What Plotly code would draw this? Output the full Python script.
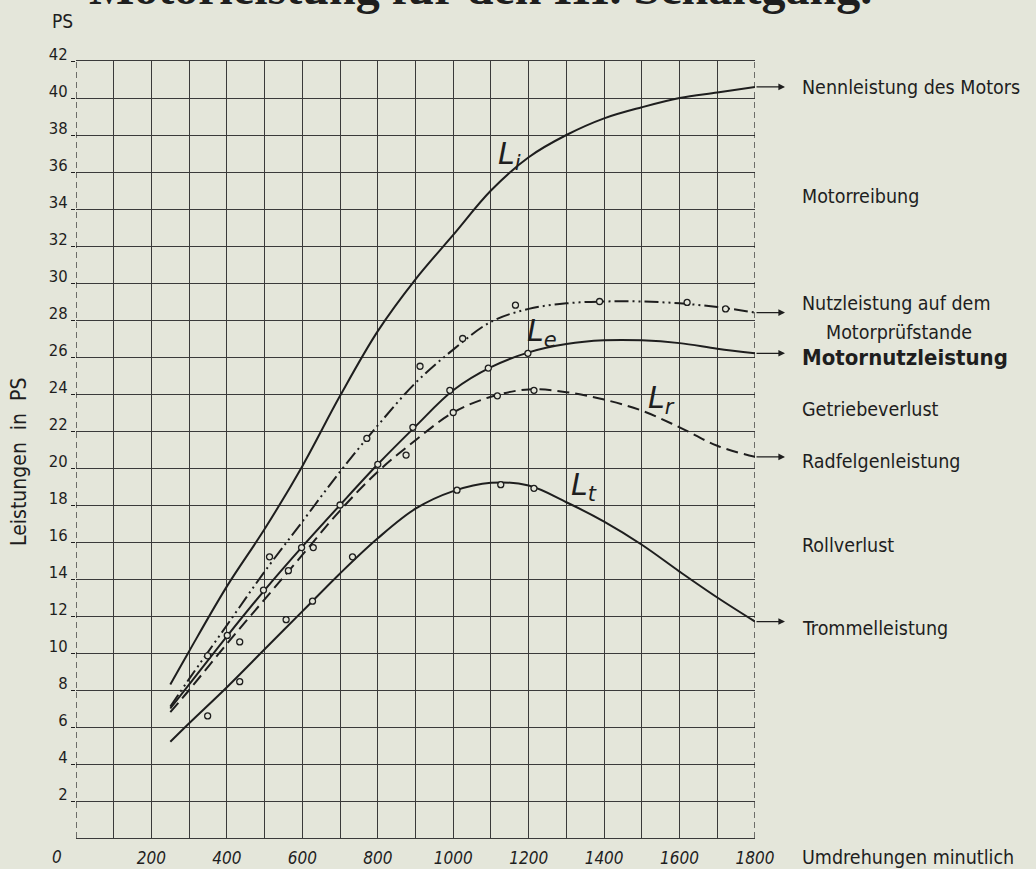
import plotly.graph_objects as go

# ---------------- data ----------------
rpm = [250, 300, 400, 500, 600, 700, 800, 900, 1000, 1100, 1200, 1300, 1400, 1500, 1600, 1700, 1800]

# L_i  Nennleistung des Motors (indicated power)
L_i = [8.3, 10.1, 13.6, 16.7, 20.1, 23.9, 27.4, 30.2, 32.6, 35.0, 36.8, 38.0, 38.9, 39.5, 40.0, 40.3, 40.6]
# Nutzleistung auf dem Motorprüfstande (dash-dot)
L_pruef = [7.1, 8.6, 11.5, 14.4, 17.1, 19.8, 22.3, 24.6, 26.4, 27.9, 28.6, 28.9, 29.0, 29.0, 28.9, 28.7, 28.4]
# L_e  Motornutzleistung (solid)
L_e = [7.0, 8.3, 10.9, 13.4, 15.75, 18.0, 20.2, 22.25, 24.2, 25.45, 26.25, 26.7, 26.9, 26.9, 26.75, 26.45, 26.2]
# L_r  Radfelgenleistung (dashed)
L_r = [6.8, 8.0, 10.5, 12.9, 15.3, 17.7, 19.8, 21.5, 23.0, 23.85, 24.25, 24.1, 23.7, 23.1, 22.2, 21.2, 20.6]
# L_t  Trommelleistung (solid)
L_t = [5.2, 6.2, 8.15, 10.2, 12.25, 14.3, 16.2, 17.8, 18.75, 19.2, 19.05, 18.15, 17.1, 15.85, 14.4, 13.0, 11.7]

# measured points (open circles)
pts_pruef_x = [513, 771, 912, 1025, 1165, 1388, 1620, 1722]
pts_pruef_y = [15.2, 21.6, 25.5, 27.0, 28.8, 29.0, 28.95, 28.6]
pts_e_x = [349, 401, 497, 598, 700, 800, 893, 991, 1093, 1198]
pts_e_y = [9.85, 10.95, 13.4, 15.7, 18.0, 20.2, 22.2, 24.2, 25.4, 26.2]
pts_r_x = [434, 563, 629, 875, 1000, 1117, 1214]
pts_r_y = [10.6, 14.45, 15.7, 20.7, 23.0, 23.9, 24.2]
pts_t_x = [349, 434, 557, 627, 733, 1010, 1126, 1214]
pts_t_y = [6.6, 8.45, 11.8, 12.8, 15.2, 18.8, 19.1, 18.9]

x_ticks = [200, 400, 600, 800, 1000, 1200, 1400, 1600, 1800]
x_minor = [100, 200, 300, 400, 500, 600, 700, 800, 900, 1000, 1100, 1200, 1300, 1400, 1500, 1600, 1700]
y_ticks = [2, 4, 6, 8, 10, 12, 14, 16, 18, 20, 22, 24, 26, 28, 30, 32, 34, 36, 38, 40, 42]

title_text = "Motorleistung für den III. Schaltgang."
right_labels = [
    ("Nennleistung des Motors", 0.9653),
    ("Motorreibung", 0.825),
    ("Nutzleistung auf dem", 0.6885),
    ("Getriebeverlust", 0.552),
    ("Radfelgenleistung", 0.484),
    ("Rollverlust", 0.377),
    ("Trommelleistung", 0.270),
]

# ---------------- style ----------------
BG = "#e4e6da"
INK = "#1e1e1e"
GRID = "#3a3a3a"
FONT = "DejaVu Sans Condensed, Liberation Sans Narrow, sans-serif"
LBL = 19.5

fig = go.Figure()

def curve(x, y, dash):
    fig.add_trace(go.Scatter(x=x, y=y, mode="lines",
                             line=dict(color=INK, width=2, dash=dash, shape="spline", smoothing=1.0),
                             hoverinfo="skip", showlegend=False))

def points(x, y):
    fig.add_trace(go.Scatter(x=x, y=y, mode="markers",
                             marker=dict(symbol="circle", size=6, color=BG,
                                         line=dict(color=INK, width=1.3)),
                             hoverinfo="skip", showlegend=False))

curve(rpm, L_i, "solid")
curve(rpm, L_pruef, "14px,4px,2px,4px,2px,4px")
curve(rpm, L_e, "solid")
curve(rpm, L_r, "12px,6px")
curve(rpm, L_t, "solid")
points(pts_pruef_x, pts_pruef_y)
points(pts_e_x, pts_e_y)
points(pts_r_x, pts_r_y)
points(pts_t_x, pts_t_y)

# dashed border lines at left and right
for xv in (0, 1800):
    fig.add_shape(type="line", x0=xv, x1=xv, y0=0, y1=42, xref="x", yref="y",
                  line=dict(color=INK, width=1.2, dash="6px,4px"))

annotations = []
# arrows from the curve ends
for series in (L_i, L_pruef, L_e, L_r, L_t):
    annotations.append(dict(x=1 + 30 / 679, xref="paper", y=series[-1], yref="y",
                            ax=-30, ay=0, axref="pixel", ayref="pixel", text="",
                            showarrow=True, arrowhead=2, arrowsize=1.1, arrowwidth=1.2,
                            arrowcolor=INK))
for txt, yy in right_labels:
    annotations.append(dict(x=1.0663, xref="paper", y=yy, yref="paper", text=txt,
                            showarrow=False, xanchor="left", yanchor="middle",
                            font=dict(family=FONT, size=LBL, color=INK)))
annotations.append(dict(x=1.212, xref="paper", y=0.651, yref="paper", text="Motorprüfstande",
                        showarrow=False, xanchor="center", yanchor="middle",
                        font=dict(family=FONT, size=LBL, color=INK)))
annotations.append(dict(x=1.0663, xref="paper", y=0.619, yref="paper", text="<b>Motornutzleistung</b>",
                        showarrow=False, xanchor="left", yanchor="middle",
                        font=dict(family=FONT, size=22, color=INK)))
annotations.append(dict(x=1.0663, xref="paper", y=-0.0245, yref="paper", text="Umdrehungen minutlich",
                        showarrow=False, xanchor="left", yanchor="middle",
                        font=dict(family=FONT, size=LBL, color=INK)))
annotations.append(dict(x=(57 - 76) / 679, xref="paper", y=-0.0245, yref="paper", text="0",
                        showarrow=False, xanchor="center", yanchor="middle",
                        font=dict(family=FONT, size=17, color=INK, style="italic")))
annotations.append(dict(x=-0.0206, xref="paper", y=1.0515, yref="paper", text="PS",
                        showarrow=False, xanchor="center", yanchor="middle",
                        font=dict(family=FONT, size=19, color=INK)))
annotations.append(dict(x=-0.0839, xref="paper", y=0.484, yref="paper", text="Leistungen  in  PS",
                        showarrow=False, textangle=-90, xanchor="center", yanchor="middle",
                        font=dict(family=FONT, size=21, color=INK)))
annotations.append(dict(x=(480 - 76) / 679, xref="paper", y=1.058, yref="paper", text="<b>" + title_text + "</b>",
                        showarrow=False, xanchor="center", yanchor="bottom",
                        font=dict(family="Liberation Serif, DejaVu Serif, serif", size=48, color=INK)))
# curve names
for txt, xx, yy in (("L<sub>i</sub>", 1150, 36.9), ("L<sub>e</sub>", 1236, 27.3),
                    ("L<sub>r</sub>", 1553, 23.7), ("L<sub>t</sub>", 1347, 19.0)):
    annotations.append(dict(x=xx, y=yy, xref="x", yref="y", text=txt, showarrow=False,
                            font=dict(family="DejaVu Sans", size=30, color=INK, style="italic")))

fig.update_layout(
    width=1036, height=869,
    margin=dict(l=76, r=281, t=61, b=31),
    paper_bgcolor=BG, plot_bgcolor=BG,
    showlegend=False,
    annotations=annotations,
    xaxis=dict(range=[0, 1800], tickmode="array", tickvals=x_ticks, automargin=False,
               ticktext=[str(v) for v in x_ticks], showgrid=False, zeroline=False,
               showline=True, mirror=True, linecolor=GRID, linewidth=1.2,
               ticks="", ticklabelstandoff=4,
               tickfont=dict(family=FONT, size=17, color=INK, style="italic"),
               minor=dict(tickmode="array", tickvals=x_minor, showgrid=True,
                          gridcolor=GRID, gridwidth=1, ticks="")),
    yaxis=dict(range=[0, 42], tickmode="array", tickvals=y_ticks, automargin=False,
               showgrid=True, gridcolor=GRID, gridwidth=1, zeroline=False,
               showline=False, ticks="outside", ticklen=4, tickcolor=INK,
               ticklabelstandoff=0, ticklabelshift=-7,
               tickfont=dict(family=FONT, size=16.5, color=INK)),
)

fig.write_html("out.html", config={"displayModeBar": False},
               post_script="document.body.style.margin='0px';")
